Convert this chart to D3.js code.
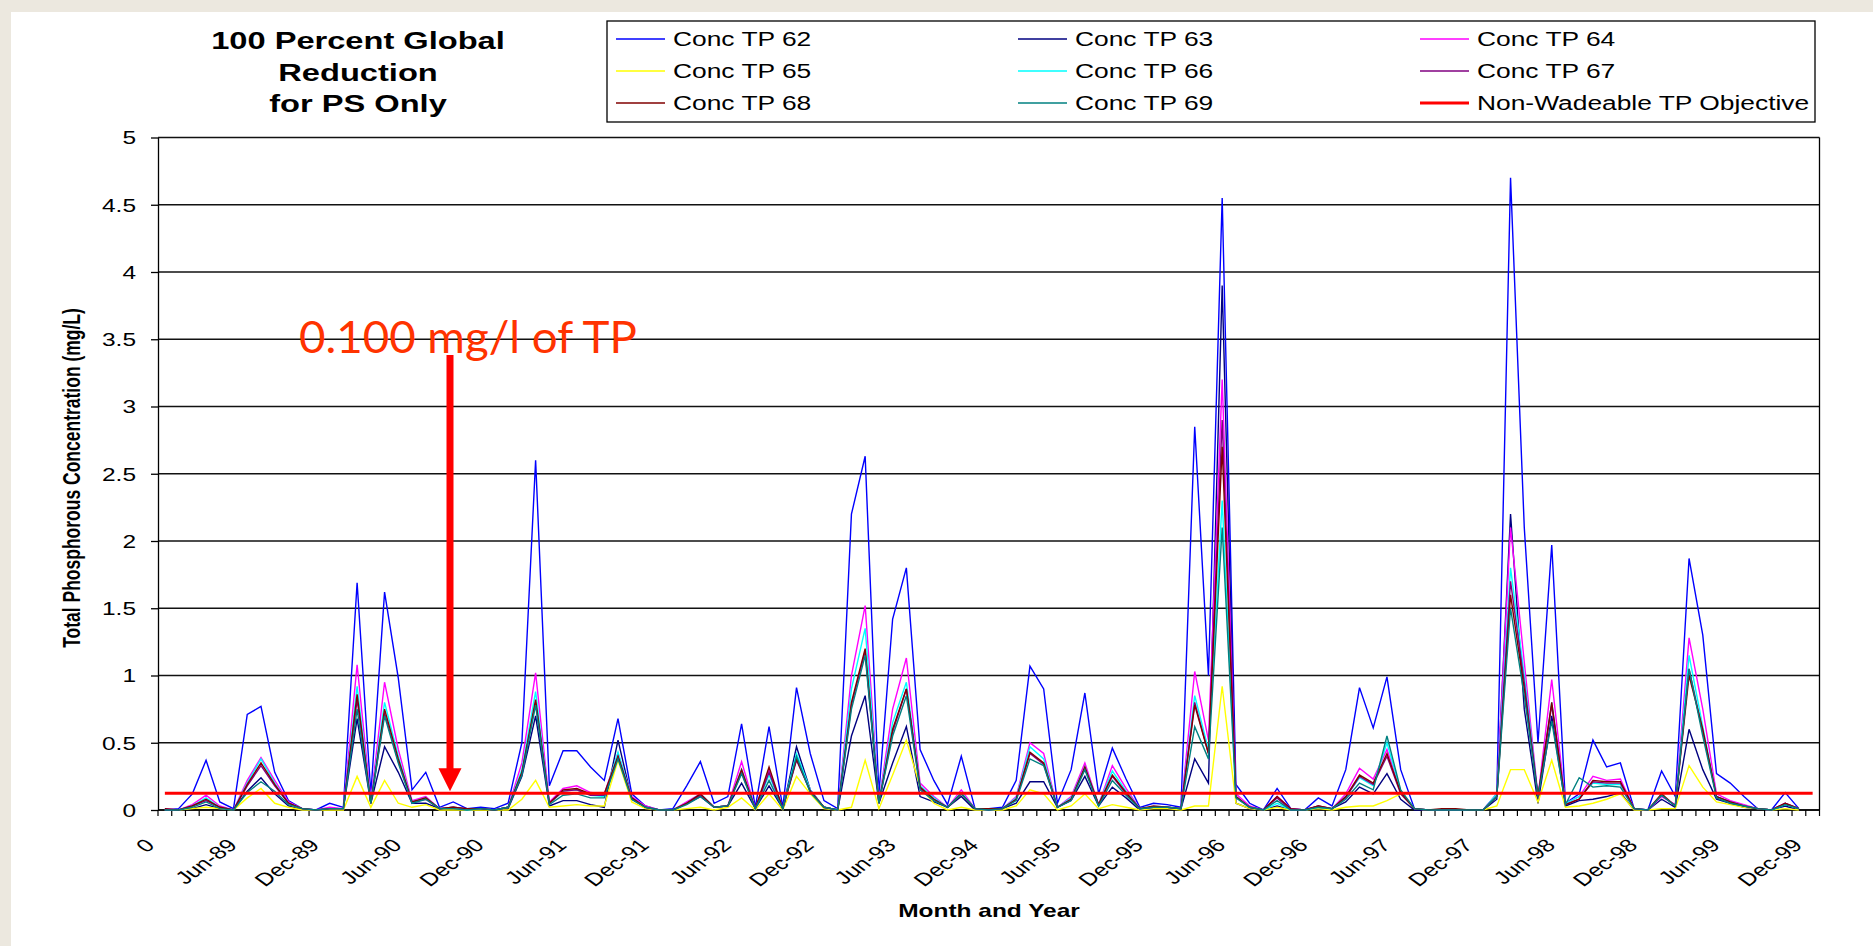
<!DOCTYPE html>
<html lang="en">
<head>
<meta charset="UTF-8">
<title>100 Percent Global Reduction for PS Only</title>
<script src="https://d3js.org/d3.v7.min.js"></script>
<style>
  html, body { margin: 0; padding: 0; background: #ece8df; }
  svg { display: block; }
  text { font-family: "Liberation Sans", Arial, sans-serif; fill: #000; }
</style>
</head>
<body>
<script>
// x axis is a plain category axis: one point per sample, a label every 6th
const categoryCount = 121;
const labelStep = 6;
const tickLabels = ["0", "Jun-89", "Dec-89", "Jun-90", "Dec-90", "Jun-91", "Dec-91",
  "Jun-92", "Dec-92", "Jun-93", "Dec-94", "Jun-95", "Dec-95", "Jun-96", "Dec-96",
  "Jun-97", "Dec-97", "Jun-98", "Dec-98", "Jun-99", "Dec-99"];

const seriesNames = ["Conc TP 62", "Conc TP 63", "Conc TP 64", "Conc TP 65",
  "Conc TP 66", "Conc TP 67", "Conc TP 68", "Conc TP 69"];
const seriesColors = ["#0000ff", "#000080", "#ff00ff", "#ffff00",
  "#00ffff", "#800080", "#800000", "#008080"];
const objectiveName = "Non-Wadeable TP Objective";
const objectiveTP = 0.125;

const tp62 = [0.00, 0.01, 0.12, 0.37, 0.06, 0.01, 0.71, 0.77, 0.28, 0.07,
  0.01, 0.00, 0.05, 0.02, 1.69, 0.12, 1.62, 0.98, 0.15, 0.28,
  0.02, 0.06, 0.01, 0.02, 0.01, 0.05, 0.50, 2.60, 0.18, 0.44,
  0.44, 0.32, 0.22, 0.68, 0.12, 0.03, 0.00, 0.01, 0.18, 0.36,
  0.05, 0.10, 0.64, 0.02, 0.62, 0.02, 0.91, 0.42, 0.07, 0.01,
  2.20, 2.63, 0.12, 1.42, 1.80, 0.45, 0.22, 0.04, 0.40, 0.01,
  0.01, 0.02, 0.22, 1.07, 0.90, 0.05, 0.30, 0.87, 0.12, 0.46,
  0.23, 0.02, 0.05, 0.04, 0.02, 2.85, 1.00, 4.55, 0.19, 0.05,
  0.00, 0.16, 0.01, 0.00, 0.09, 0.03, 0.30, 0.91, 0.61, 0.99,
  0.30, 0.01, 0.00, 0.00, 0.00, 0.00, 0.00, 0.12, 4.70, 2.10,
  0.50, 1.97, 0.05, 0.12, 0.52, 0.32, 0.35, 0.01, 0.00, 0.29,
  0.10, 1.87, 1.30, 0.27, 0.20, 0.10, 0.01, 0.00, 0.13, 0.01];
const tp63 = [0.00, 0.00, 0.01, 0.04, 0.01, 0.00, 0.14, 0.24, 0.12, 0.03,
  0.00, 0.00, 0.01, 0.01, 0.68, 0.05, 0.47, 0.28, 0.05, 0.05,
  0.01, 0.01, 0.00, 0.01, 0.00, 0.01, 0.25, 0.70, 0.03, 0.07,
  0.07, 0.04, 0.02, 0.52, 0.08, 0.02, 0.00, 0.00, 0.05, 0.10,
  0.02, 0.03, 0.20, 0.01, 0.18, 0.01, 0.47, 0.15, 0.02, 0.00,
  0.55, 0.85, 0.05, 0.35, 0.62, 0.10, 0.06, 0.02, 0.10, 0.00,
  0.00, 0.01, 0.05, 0.21, 0.21, 0.02, 0.07, 0.25, 0.03, 0.17,
  0.09, 0.00, 0.02, 0.02, 0.01, 0.38, 0.20, 3.90, 0.05, 0.01,
  0.00, 0.03, 0.00, 0.00, 0.01, 0.01, 0.06, 0.17, 0.12, 0.27,
  0.08, 0.00, 0.00, 0.00, 0.00, 0.00, 0.00, 0.08, 2.20, 0.75,
  0.05, 0.70, 0.03, 0.07, 0.08, 0.10, 0.13, 0.00, 0.00, 0.08,
  0.02, 0.60, 0.30, 0.08, 0.05, 0.02, 0.01, 0.00, 0.03, 0.00];
const tp64 = [0.01, 0.00, 0.04, 0.11, 0.03, 0.00, 0.22, 0.39, 0.22, 0.06,
  0.01, 0.00, 0.02, 0.01, 1.08, 0.07, 0.95, 0.45, 0.07, 0.10,
  0.01, 0.02, 0.00, 0.01, 0.00, 0.02, 0.35, 1.02, 0.06, 0.16,
  0.18, 0.13, 0.12, 0.42, 0.10, 0.03, 0.00, 0.00, 0.06, 0.12,
  0.02, 0.03, 0.36, 0.01, 0.30, 0.01, 0.40, 0.15, 0.02, 0.00,
  1.00, 1.52, 0.06, 0.75, 1.13, 0.20, 0.10, 0.02, 0.15, 0.01,
  0.00, 0.01, 0.10, 0.50, 0.42, 0.02, 0.10, 0.35, 0.04, 0.33,
  0.16, 0.01, 0.02, 0.02, 0.01, 1.03, 0.52, 3.20, 0.12, 0.03,
  0.00, 0.10, 0.01, 0.00, 0.03, 0.01, 0.12, 0.31, 0.23, 0.45,
  0.14, 0.01, 0.00, 0.00, 0.00, 0.00, 0.00, 0.12, 2.10, 1.10,
  0.10, 0.97, 0.05, 0.10, 0.25, 0.22, 0.23, 0.01, 0.00, 0.10,
  0.04, 1.28, 0.75, 0.12, 0.07, 0.04, 0.01, 0.00, 0.05, 0.01];
const tp65 = [0.00, 0.00, 0.01, 0.02, 0.01, 0.00, 0.09, 0.16, 0.05, 0.02,
  0.00, 0.00, 0.00, 0.00, 0.25, 0.02, 0.22, 0.05, 0.02, 0.04,
  0.00, 0.00, 0.00, 0.00, 0.00, 0.00, 0.08, 0.22, 0.02, 0.03,
  0.04, 0.03, 0.03, 0.37, 0.06, 0.01, 0.00, 0.00, 0.01, 0.02,
  0.00, 0.02, 0.09, 0.00, 0.12, 0.00, 0.25, 0.12, 0.01, 0.00,
  0.02, 0.37, 0.01, 0.26, 0.52, 0.17, 0.05, 0.00, 0.02, 0.00,
  0.00, 0.00, 0.03, 0.15, 0.12, 0.00, 0.03, 0.12, 0.01, 0.04,
  0.02, 0.00, 0.01, 0.01, 0.00, 0.03, 0.03, 0.92, 0.05, 0.01,
  0.00, 0.02, 0.00, 0.00, 0.01, 0.00, 0.02, 0.03, 0.03, 0.07,
  0.12, 0.01, 0.00, 0.00, 0.00, 0.00, 0.00, 0.03, 0.30, 0.30,
  0.06, 0.37, 0.02, 0.03, 0.05, 0.08, 0.12, 0.00, 0.00, 0.01,
  0.01, 0.33, 0.17, 0.06, 0.04, 0.02, 0.01, 0.00, 0.01, 0.00];
const tp66 = [0.00, 0.00, 0.03, 0.09, 0.02, 0.00, 0.20, 0.38, 0.20, 0.05,
  0.01, 0.00, 0.01, 0.01, 0.92, 0.06, 0.80, 0.40, 0.06, 0.09,
  0.01, 0.02, 0.00, 0.01, 0.00, 0.02, 0.30, 0.88, 0.05, 0.14,
  0.15, 0.11, 0.10, 0.43, 0.09, 0.02, 0.00, 0.00, 0.05, 0.12,
  0.02, 0.03, 0.30, 0.01, 0.26, 0.01, 0.42, 0.15, 0.02, 0.00,
  0.90, 1.35, 0.06, 0.65, 0.95, 0.18, 0.09, 0.02, 0.13, 0.01,
  0.00, 0.01, 0.09, 0.47, 0.38, 0.02, 0.09, 0.32, 0.04, 0.29,
  0.14, 0.01, 0.02, 0.02, 0.01, 0.85, 0.45, 2.30, 0.10, 0.02,
  0.00, 0.05, 0.00, 0.00, 0.02, 0.01, 0.10, 0.24, 0.18, 0.50,
  0.14, 0.01, 0.00, 0.00, 0.00, 0.00, 0.00, 0.12, 1.80, 1.00,
  0.10, 0.80, 0.05, 0.10, 0.20, 0.19, 0.19, 0.01, 0.00, 0.11,
  0.03, 1.15, 0.62, 0.10, 0.06, 0.03, 0.01, 0.00, 0.04, 0.01];
const tp67 = [0.00, 0.00, 0.03, 0.07, 0.02, 0.00, 0.18, 0.33, 0.18, 0.05,
  0.01, 0.00, 0.01, 0.01, 0.82, 0.05, 0.72, 0.36, 0.06, 0.08,
  0.01, 0.02, 0.01, 0.01, 0.00, 0.02, 0.27, 0.80, 0.05, 0.14,
  0.15, 0.11, 0.11, 0.39, 0.09, 0.02, 0.00, 0.00, 0.05, 0.11,
  0.02, 0.03, 0.28, 0.01, 0.28, 0.01, 0.37, 0.14, 0.02, 0.00,
  0.78, 1.18, 0.05, 0.58, 0.90, 0.16, 0.08, 0.02, 0.12, 0.01,
  0.00, 0.01, 0.08, 0.42, 0.34, 0.02, 0.08, 0.31, 0.04, 0.25,
  0.12, 0.01, 0.02, 0.02, 0.01, 0.80, 0.42, 2.90, 0.10, 0.02,
  0.00, 0.09, 0.00, 0.00, 0.03, 0.01, 0.09, 0.25, 0.19, 0.40,
  0.12, 0.01, 0.00, 0.00, 0.00, 0.00, 0.00, 0.10, 1.70, 0.95,
  0.10, 0.78, 0.04, 0.08, 0.21, 0.20, 0.20, 0.01, 0.00, 0.11,
  0.03, 1.05, 0.58, 0.10, 0.06, 0.03, 0.01, 0.00, 0.05, 0.01];
const tp68 = [0.01, 0.00, 0.03, 0.08, 0.02, 0.00, 0.19, 0.35, 0.19, 0.05,
  0.01, 0.00, 0.01, 0.01, 0.86, 0.05, 0.75, 0.38, 0.06, 0.09,
  0.01, 0.02, 0.01, 0.01, 0.00, 0.02, 0.28, 0.82, 0.05, 0.15,
  0.16, 0.12, 0.12, 0.40, 0.09, 0.02, 0.00, 0.00, 0.05, 0.12,
  0.02, 0.03, 0.30, 0.01, 0.32, 0.01, 0.38, 0.14, 0.02, 0.00,
  0.80, 1.20, 0.05, 0.60, 0.90, 0.17, 0.08, 0.02, 0.12, 0.01,
  0.01, 0.01, 0.08, 0.43, 0.35, 0.02, 0.08, 0.32, 0.04, 0.26,
  0.13, 0.01, 0.03, 0.02, 0.01, 0.78, 0.42, 2.70, 0.10, 0.02,
  0.00, 0.10, 0.01, 0.00, 0.03, 0.01, 0.10, 0.26, 0.20, 0.42,
  0.13, 0.01, 0.00, 0.01, 0.01, 0.00, 0.00, 0.10, 1.60, 0.90,
  0.10, 0.80, 0.04, 0.08, 0.22, 0.21, 0.21, 0.01, 0.00, 0.12,
  0.03, 1.00, 0.60, 0.10, 0.06, 0.03, 0.01, 0.00, 0.05, 0.01];
const tp69 = [0.00, 0.00, 0.02, 0.06, 0.01, 0.00, 0.13, 0.21, 0.14, 0.04,
  0.01, 0.00, 0.01, 0.01, 0.75, 0.05, 0.70, 0.35, 0.05, 0.08,
  0.01, 0.01, 0.00, 0.01, 0.00, 0.02, 0.26, 0.78, 0.04, 0.11,
  0.12, 0.09, 0.09, 0.38, 0.08, 0.02, 0.00, 0.00, 0.04, 0.10,
  0.02, 0.03, 0.27, 0.01, 0.22, 0.01, 0.40, 0.13, 0.02, 0.00,
  0.75, 1.15, 0.05, 0.55, 0.85, 0.15, 0.07, 0.02, 0.12, 0.01,
  0.00, 0.01, 0.07, 0.38, 0.33, 0.02, 0.07, 0.30, 0.03, 0.22,
  0.11, 0.01, 0.02, 0.02, 0.01, 0.62, 0.38, 2.10, 0.09, 0.02,
  0.00, 0.07, 0.00, 0.00, 0.02, 0.01, 0.08, 0.20, 0.15, 0.55,
  0.15, 0.01, 0.00, 0.00, 0.00, 0.00, 0.00, 0.10, 1.50, 0.85,
  0.10, 0.66, 0.04, 0.24, 0.17, 0.18, 0.17, 0.01, 0.00, 0.11,
  0.03, 1.05, 0.55, 0.09, 0.05, 0.03, 0.01, 0.00, 0.04, 0.01];
const seriesValues = [tp62, tp63, tp64, tp65, tp66, tp67, tp68, tp69];

const W = 1873, H = 946;
const SX = 1.36; // the source chart was stretched sideways, so its text is too
const plot = { left: 158, right: 1819.5, top: 137.5, bottom: 810 };

const svg = d3.select("body").append("svg").attr("width", W).attr("height", H);

svg.append("rect")
  .attr("x", 11).attr("y", 12)
  .attr("width", W - 11).attr("height", H - 12)
  .attr("fill", "#fff");

const x = d3.scaleBand().domain(d3.range(categoryCount)).range([plot.left, plot.right]);
const cx = i => x(i) + x.bandwidth() / 2;
const y = d3.scaleLinear().domain([0, 5]).range([plot.bottom, plot.top]);

// horizontal gridlines
svg.append("g").selectAll("line")
  .data(y.ticks(10))
  .join("line")
  .attr("x1", plot.left).attr("x2", plot.right)
  .attr("y1", d => y(d)).attr("y2", d => y(d))
  .attr("stroke", "#111").attr("stroke-width", 1.3);

// y axis
const yAxis = svg.append("g")
  .attr("transform", `translate(${plot.left},0)`)
  .call(d3.axisLeft(y).ticks(10).tickSize(7).tickSizeOuter(0).tickFormat(d3.format("")));
yAxis.select(".domain").attr("stroke", "#000").attr("stroke-width", 1.3);
yAxis.selectAll(".tick line").attr("stroke", "#000").attr("stroke-width", 1.3);
yAxis.selectAll(".tick text")
  .attr("x", null)
  .attr("dy", "0.36em")
  .attr("transform", `translate(-22,0) scale(${SX},1)`)
  .attr("font-size", 18)
  .attr("font-family", "Liberation Sans, Arial, sans-serif");

// right border of the plot
svg.append("line")
  .attr("x1", plot.right).attr("x2", plot.right)
  .attr("y1", plot.top).attr("y2", plot.bottom)
  .attr("stroke", "#000").attr("stroke-width", 1.3);

// x axis: baseline plus a tick between every category
svg.append("line")
  .attr("x1", plot.left).attr("x2", plot.right)
  .attr("y1", plot.bottom).attr("y2", plot.bottom)
  .attr("stroke", "#000").attr("stroke-width", 1.3);

svg.append("g").selectAll("line")
  .data(d3.range(categoryCount + 1))
  .join("line")
  .attr("x1", i => i < categoryCount ? x(i) : plot.right)
  .attr("x2", i => i < categoryCount ? x(i) : plot.right)
  .attr("y1", plot.bottom).attr("y2", plot.bottom + 6)
  .attr("stroke", "#000").attr("stroke-width", 1.2);

svg.append("g").selectAll("text")
  .data(tickLabels)
  .join("text")
  .attr("transform", (d, j) => `translate(${cx(j * labelStep) - 15},842) scale(${SX},1) rotate(-45)`)
  .attr("text-anchor", "end")
  .attr("dy", "0.35em")
  .attr("font-size", 18)
  .text(d => d);

// data series, first one underneath
const line = d3.line()
  .x((d, i) => cx(i))
  .y(d => y(d));

svg.append("g").selectAll("path")
  .data(seriesValues)
  .join("path")
  .attr("d", d => line(d))
  .attr("fill", "none")
  .attr("stroke", (d, i) => seriesColors[i])
  .attr("stroke-width", 1.4)
  .attr("stroke-linejoin", "miter");

svg.append("line")
  .attr("x1", cx(0)).attr("x2", cx(categoryCount - 1))
  .attr("y1", y(objectiveTP)).attr("y2", y(objectiveTP))
  .attr("stroke", "#ff0000").attr("stroke-width", 3);

// axis titles
svg.append("text")
  .attr("transform", `translate(80,478) scale(${SX},1) rotate(-90)`)
  .attr("text-anchor", "middle")
  .attr("font-size", 17.5)
  .attr("font-weight", "bold")
  .text("Total Phosphorous Concentration (mg/L)");

svg.append("text")
  .attr("transform", `translate(989,917) scale(${SX},1)`)
  .attr("text-anchor", "middle")
  .attr("font-size", 18)
  .attr("font-weight", "bold")
  .text("Month and Year");

// title
const titleLines = ["100 Percent Global", "Reduction", "for PS Only"];
svg.append("g").selectAll("text")
  .data(titleLines)
  .join("text")
  .attr("transform", (d, i) => `translate(358,${49 + i * 31.5}) scale(${SX},1)`)
  .attr("text-anchor", "middle")
  .attr("font-size", 24)
  .attr("font-weight", "bold")
  .text(d => d);

// legend, three columns, filled row by row
const legendItems = seriesNames.map((n, i) => ({ name: n, color: seriesColors[i], width: 1.4 }))
  .concat([{ name: objectiveName, color: "#ff0000", width: 3 }]);
const legend = svg.append("g");
legend.append("rect")
  .attr("x", 607).attr("y", 21)
  .attr("width", 1208).attr("height", 101)
  .attr("fill", "#fff").attr("stroke", "#000").attr("stroke-width", 1.3);
const item = legend.selectAll("g.item")
  .data(legendItems)
  .join("g")
  .attr("class", "item")
  .attr("transform", (d, i) => `translate(${616 + (i % 3) * 402},${39 + Math.floor(i / 3) * 32})`);
item.append("line")
  .attr("x1", 0).attr("x2", 49)
  .attr("stroke", d => d.color).attr("stroke-width", d => d.width);
item.append("text")
  .attr("transform", `translate(57,0) scale(${SX},1)`)
  .attr("dy", "0.35em")
  .attr("font-size", 19.4)
  .text(d => d.name);

// annotation arrow pointing at the objective line
const arrowX = 450, arrowTop = 355, tipY = y(objectiveTP) - 2;
svg.append("rect")
  .attr("x", arrowX - 3.5).attr("y", arrowTop)
  .attr("width", 7).attr("height", tipY - 22 - arrowTop)
  .attr("fill", "#ff0000");
svg.append("path")
  .attr("d", `M${arrowX - 11.5},${tipY - 23} L${arrowX + 11.5},${tipY - 23} L${arrowX},${tipY} Z`)
  .attr("fill", "#ff0000");
svg.append("text")
  .attr("x", 299).attr("y", 353)
  .attr("font-size", 45)
  .attr("textLength", 338)
  .attr("lengthAdjust", "spacingAndGlyphs")
  .style("font-family", "Lato, 'Open Sans', sans-serif")
  .style("fill", "#ff3300")
  .text("0.100 mg/l of TP");
</script>
</body>
</html>
